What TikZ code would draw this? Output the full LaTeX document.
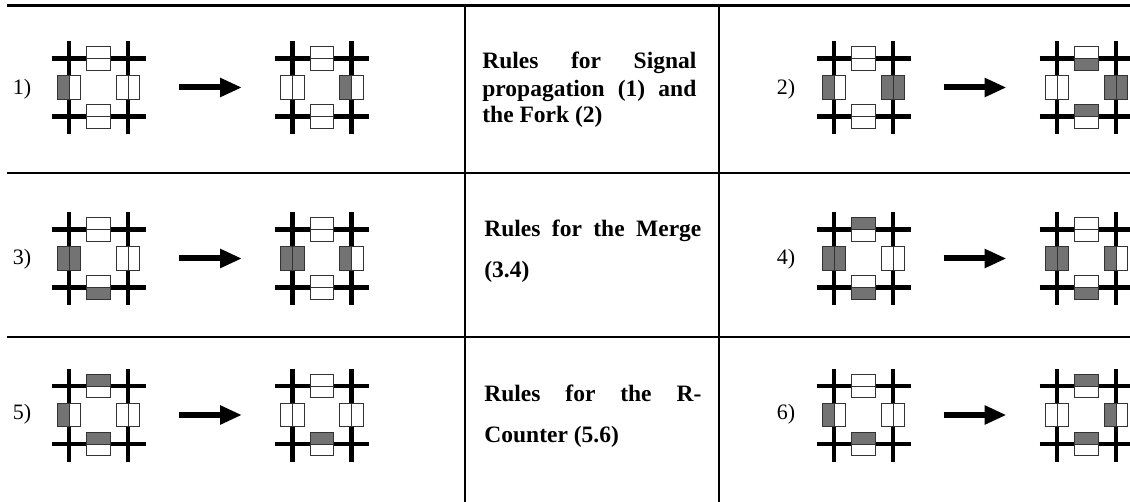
\documentclass[tikz,border=0pt]{standalone}
\usepackage{fontspec}
\setmainfont{Liberation Serif}
\usetikzlibrary{arrows.meta}

% half side of a cell box, in picture units
\def\bh{11.75}

\tikzset{
  rulegrid/.style={line width=2.25pt, line cap=butt},
  tablerule/.style={line width=1.25pt},
  stip/.style={fill=black!55},
  boxline/.style={draw=black!80, line width=0.5pt},
  glyphnode/.style={minimum size=47pt, inner sep=0pt, outer sep=0pt},
  bigarrow/.style={line width=3pt, -{Triangle[length=11pt,width=9pt]},
    shorten <=16.5pt, shorten >=16.5pt},
  rulelabel/.style={font=\fontsize{11pt}{13pt}\selectfont, inner sep=0pt, anchor=base},
  ruletext/.style={font=\bfseries\fontsize{11.75pt}{14pt}\selectfont, inner sep=0pt, anchor=base west},
}

% box on a horizontal bar: #1 = y of bar, #2 = state (0 none, 1 outer, 2 inner, 3 full), #3 = outward direction
\newcommand\cellH[3]{%
  \fill[white] ({-\bh},{#1-\bh}) rectangle ({\bh},{#1+\bh});
  \ifcase#2\relax
  \or \fill[stip] ({-\bh},{#1}) rectangle ({\bh},{#1+(#3)*\bh});
  \or \fill[stip] ({-\bh},{#1}) rectangle ({\bh},{#1-(#3)*\bh});
  \or \fill[stip] ({-\bh},{#1-\bh}) rectangle ({\bh},{#1+\bh});
  \fi
  \draw[boxline] ({-\bh},{#1-\bh}) rectangle ({\bh},{#1+\bh}) ({-\bh},{#1}) -- ({\bh},{#1});
}
% box on a vertical bar: #1 = x of bar, #2 = state, #3 = outward direction
\newcommand\cellV[3]{%
  \fill[white] ({#1-\bh},{-\bh}) rectangle ({#1+\bh},{\bh});
  \ifcase#2\relax
  \or \fill[stip] ({#1},{-\bh}) rectangle ({#1+(#3)*\bh},{\bh});
  \or \fill[stip] ({#1},{-\bh}) rectangle ({#1-(#3)*\bh},{\bh});
  \or \fill[stip] ({#1-\bh},{-\bh}) rectangle ({#1+\bh},{\bh});
  \fi
  \draw[boxline] ({#1-\bh},{-\bh}) rectangle ({#1+\bh},{\bh}) ({#1},{-\bh}) -- ({#1},{\bh});
}
% one cell configuration: name, x, y, top, bottom, left, right
\newcommand\ruleglyph[7]{%
  \node[glyphnode] (#1) at (#2,#3) {};
  \begin{scope}[shift={(#2,#3)}]
    \draw[rulegrid] (-47,-29) -- (47,-29) (-47,29) -- (47,29)
      (-29.5,-46.5) -- (-29.5,46.5) (29.5,-46.5) -- (29.5,46.5);
    \cellH{-29}{#4}{-1}
    \cellH{29}{#5}{1}
    \cellV{-29.5}{#6}{-1}
    \cellV{29.5}{#7}{1}
  \end{scope}
}

\begin{document}
\begin{tikzpicture}[x=0.5pt, y=-0.5pt]
\useasboundingbox (0,0) rectangle (1130,502);

% table rules
\draw[tablerule] (7,5.5) -- (1130,5.5) (7,173) -- (1130,173) (7,337) -- (1130,337);
\draw[tablerule] (465,5.5) -- (465,502) (719,5.5) -- (719,502);

% row 1
\node[rulelabel] (n1) at (22,95) {1)};
\ruleglyph{g1a}{98.5}{87.5}{0}{0}{1}{0}
\ruleglyph{g1b}{322}{87.5}{0}{0}{0}{2}
\draw[bigarrow] (g1a) -- (g1b);
\node[rulelabel] (n2) at (786,95) {2)};
\ruleglyph{g2a}{863.5}{87.5}{0}{0}{1}{3}
\ruleglyph{g2b}{1086.5}{87.5}{2}{2}{0}{3}
\draw[bigarrow] (g2a) -- (g2b);

% row 2
\node[rulelabel] (n3) at (22,265) {3)};
\ruleglyph{g3a}{98.5}{258.5}{0}{1}{3}{0}
\ruleglyph{g3b}{322}{258.5}{0}{0}{3}{2}
\draw[bigarrow] (g3a) -- (g3b);
\node[rulelabel] (n4) at (786,265) {4)};
\ruleglyph{g4a}{863.5}{258.5}{1}{1}{3}{0}
\ruleglyph{g4b}{1086.5}{258.5}{0}{1}{3}{2}
\draw[bigarrow] (g4a) -- (g4b);

% row 3
\node[rulelabel] (n5) at (22,419) {5)};
\ruleglyph{g5a}{98.5}{415}{1}{2}{1}{0}
\ruleglyph{g5b}{322}{415}{0}{2}{0}{0}
\draw[bigarrow] (g5a) -- (g5b);
\node[rulelabel] (n6) at (786,419) {6)};
\ruleglyph{g6a}{863.5}{415}{0}{2}{1}{0}
\ruleglyph{g6b}{1086.5}{415}{1}{2}{0}{2}
\draw[bigarrow] (g6a) -- (g6b);

% descriptions
\node[ruletext] (t1a) at (482,69) {\makebox[107pt][s]{Rules for Signal}};
\node[ruletext] (t1b) at (482,97) {\makebox[107pt][s]{propagation (1) and}};
\node[ruletext] (t1c) at (482,123) {the Fork (2)};
\node[ruletext] (t2a) at (484,237) {\makebox[108.5pt][s]{Rules for the Merge}};
\node[ruletext] (t2b) at (484,278) {(3.4)};
\node[ruletext] (t3a) at (484,401) {\makebox[108.5pt][s]{Rules for the R-}};
\node[ruletext] (t3b) at (484,442) {Counter (5.6)};
\end{tikzpicture}
\end{document}
